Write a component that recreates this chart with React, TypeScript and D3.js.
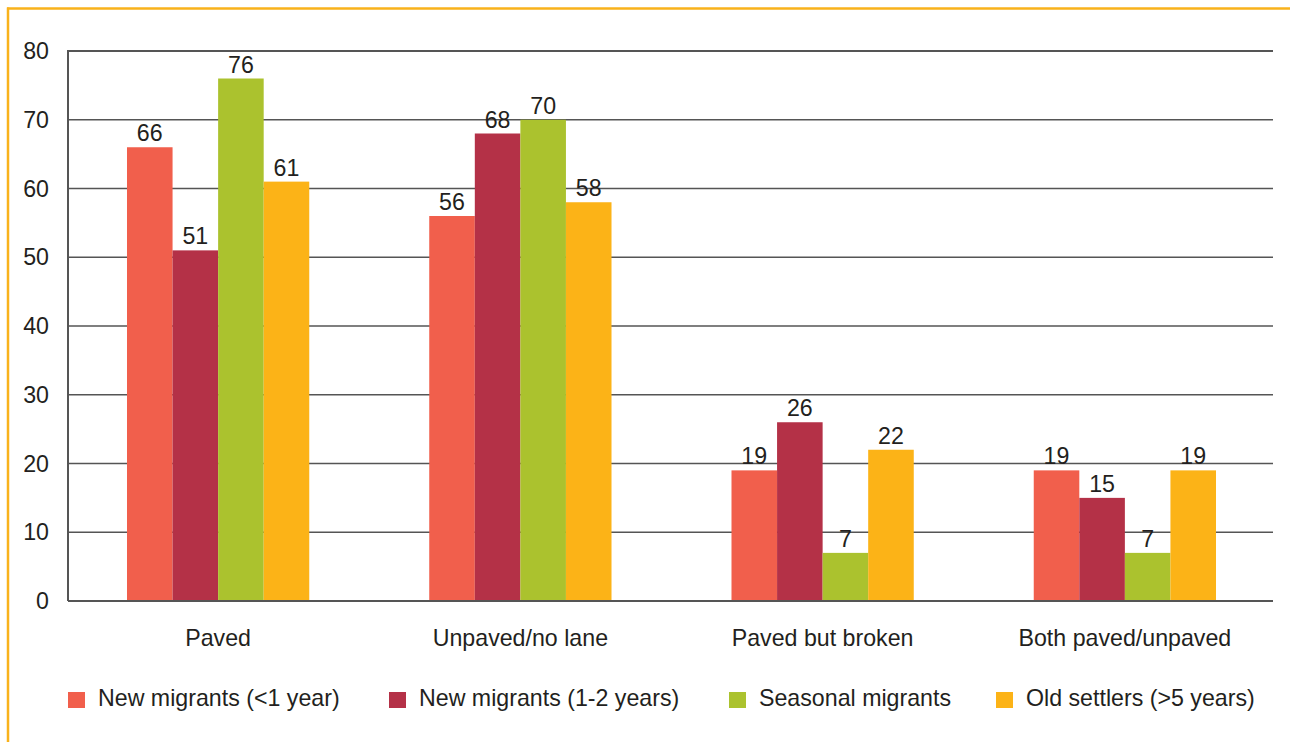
import React from "react";
import * as d3 from "d3";

const categories = ["Paved", "Unpaved/no lane", "Paved but broken", "Both paved/unpaved"];
const seriesNames = [
  "New migrants (<1 year)",
  "New migrants (1-2 years)",
  "Seasonal migrants",
  "Old settlers (>5 years)",
];
const newUnder1 = [66, 56, 19, 19];
const new1to2 = [51, 68, 26, 15];
const seasonal = [76, 70, 7, 7];
const oldSettlers = [61, 58, 22, 19];
const yTicks = [0, 10, 20, 30, 40, 50, 60, 70, 80];
const colors = ["#F15F4C", "#B43147", "#ABC22E", "#FCB317"];
const legendX = [68, 389, 729, 996];

const W = 1290;
const H = 742;
const margin = { left: 68, right: 1273, top: 51, bottom: 601 };
const FONT = "'Liberation Sans', Arial, Helvetica, sans-serif";
const TEXT = "#231f20";
const FS = 23.2;

export default function App() {
  const series = [newUnder1, new1to2, seasonal, oldSettlers];

  const y = d3.scaleLinear().domain([0, 80]).range([margin.bottom, margin.top]);
  const x0 = d3
    .scaleBand<string>()
    .domain(categories)
    .range([margin.left - 1, margin.right + 3])
    .paddingInner(0.397)
    .paddingOuter(0.1985);
  const x1 = d3
    .scaleBand<number>()
    .domain(d3.range(series.length))
    .range([0, x0.bandwidth()]);

  return (
    <svg
      width={W}
      height={H}
      style={{ position: "absolute", left: 0, top: 0, background: "#fff" }}
      fontFamily={FONT}
    >
      {/* frame */}
      <line x1={7} x2={W} y1={8.5} y2={8.5} stroke="#F9B21B" strokeWidth={2.5} />
      <line x1={8} x2={8} y1={7.5} y2={H} stroke="#F9B21B" strokeWidth={2.5} />

      {/* gridlines and y tick labels */}
      {yTicks.map((t) => (
        <g key={t}>
          {t > 0 && (
            <line
              x1={margin.left}
              x2={margin.right}
              y1={y(t)}
              y2={y(t)}
              stroke="#555"
              strokeWidth={t === 80 ? 2 : 1.3}
            />
          )}
          <text x={49} y={y(t) + 8} textAnchor="end" fontSize={FS} fill={TEXT}>
            {t}
          </text>
        </g>
      ))}

      {/* bars */}
      {categories.map((c, ci) => (
        <g key={c} transform={`translate(${x0(c)},0)`}>
          {series.map((s, si) => (
            <rect
              key={si}
              x={x1(si)}
              y={y(s[ci])}
              width={x1.bandwidth()}
              height={y(0) - y(s[ci])}
              fill={colors[si]}
            />
          ))}
          {series.map((s, si) => (
            <text
              key={"l" + si}
              x={(x1(si) as number) + x1.bandwidth() / 2}
              y={y(s[ci]) - 6}
              textAnchor="middle"
              fontSize={FS}
              fill={TEXT}
            >
              {s[ci]}
            </text>
          ))}
          <text
            x={x0.bandwidth() / 2}
            y={646}
            textAnchor="middle"
            fontSize={FS}
            fill={TEXT}
          >
            {c}
          </text>
        </g>
      ))}

      {/* axes */}
      <line
        x1={margin.left}
        x2={margin.left}
        y1={margin.top - 1}
        y2={margin.bottom}
        stroke="#555"
        strokeWidth={2}
      />
      <line
        x1={margin.left}
        x2={margin.right}
        y1={y(0)}
        y2={y(0)}
        stroke="#555"
        strokeWidth={2}
      />

      {/* legend */}
      {seriesNames.map((n, i) => (
        <g key={n}>
          <rect x={legendX[i]} y={692} width={17} height={16} fill={colors[i]} />
          <text x={legendX[i] + 30} y={706} fontSize={FS} fill={TEXT}>
            {n}
          </text>
        </g>
      ))}
    </svg>
  );
}
